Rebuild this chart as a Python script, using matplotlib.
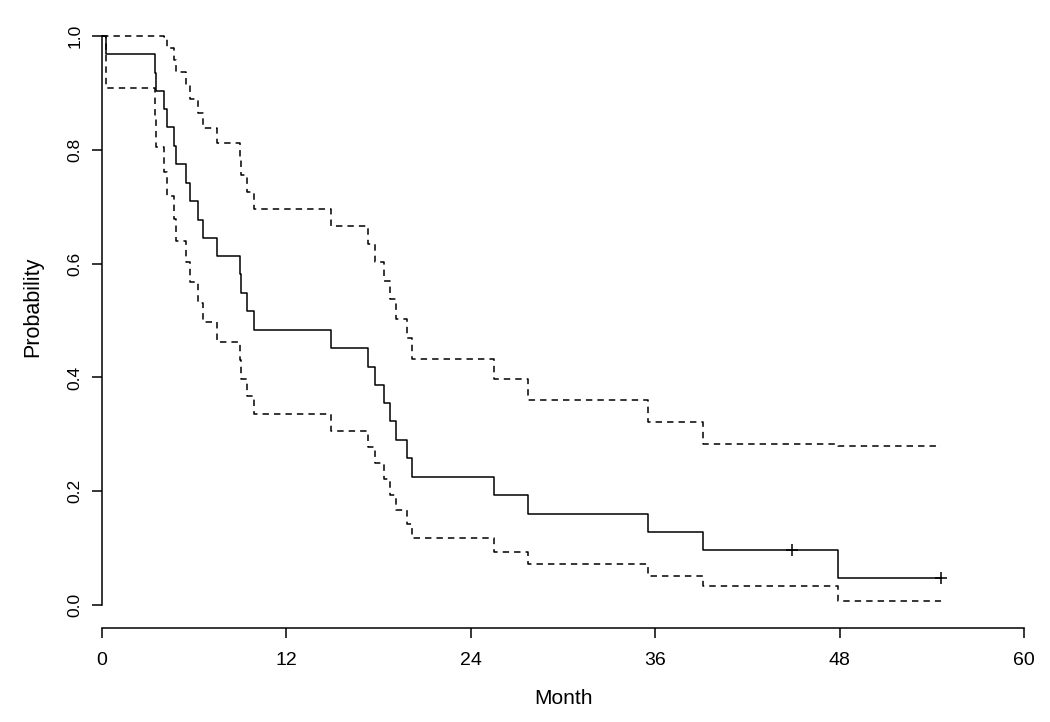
import numpy as np
import matplotlib
matplotlib.use("Agg")
import matplotlib.pyplot as plt
from matplotlib import font_manager

# ---- data (Kaplan-Meier estimate with 95% CI) ----
event_months = [0.0, 0.24, 3.45, 3.52, 4.05, 4.22, 4.70, 4.80, 5.47, 5.73, 6.27,
                6.59, 7.46, 8.98, 9.06, 9.45, 9.88, 14.9, 17.3, 17.76, 18.33,
                18.74, 19.15, 19.82, 20.2, 25.5, 27.74, 35.55, 39.12, 47.9]
survival = [1.0, 0.968, 0.935, 0.903, 0.871, 0.839, 0.806, 0.774, 0.742, 0.710,
            0.677, 0.645, 0.613, 0.581, 0.548, 0.516, 0.484, 0.452, 0.419, 0.387,
            0.355, 0.323, 0.290, 0.258, 0.226, 0.194, 0.161, 0.129, 0.097, 0.048]
upper_ci = [1.0, 1.0, 1.0, 1.0, 0.997, 0.979, 0.958, 0.936, 0.913, 0.889,
            0.864, 0.838, 0.811, 0.783, 0.755, 0.726, 0.696, 0.666, 0.635, 0.603,
            0.570, 0.537, 0.503, 0.469, 0.433, 0.397, 0.360, 0.322, 0.284, 0.280]
lower_ci = [1.0, 0.908, 0.853, 0.805, 0.761, 0.719, 0.679, 0.640, 0.603, 0.567,
            0.531, 0.497, 0.463, 0.431, 0.398, 0.367, 0.336, 0.306, 0.277, 0.249,
            0.221, 0.194, 0.167, 0.142, 0.118, 0.094, 0.072, 0.052, 0.033, 0.008]
censor_months = [44.9, 54.6]
end_month = 54.6

x_ticks = [0, 12, 24, 36, 48, 60]
x_tick_labels = ["0", "12", "24", "36", "48", "60"]
y_ticks = [0.0, 0.2, 0.4, 0.6, 0.8, 1.0]
y_tick_labels = ["0.0", "0.2", "0.4", "0.6", "0.8", "1.0"]
x_label = "Month"
y_label = "Probability"

# ---- fonts ----
names = {f.name for f in font_manager.fontManager.ttflist}
narrow = ["Liberation Sans Narrow"] if "Liberation Sans Narrow" in names else []
h_family = narrow + ["Liberation Sans", "DejaVu Sans"]
v_family = ["Liberation Sans", "DejaVu Sans"]

W, H = 1050, 722
fig = plt.figure(figsize=(W / 100, H / 100), dpi=100)
ax = fig.add_axes([102 / W, 1 - 628 / H, (1024 - 102) / W, (628 - 13) / H])
ax.set_xlim(0, 60)
ax.set_ylim(-0.04, 1.04)

t = list(event_months) + [end_month]
def ext(v):
    return list(v) + [v[-1]]

ax.step(t, ext(survival), where="post", color="black", lw=1.1)
ax.step(t, ext(upper_ci), where="post", color="black", lw=1.1, dashes=(4.2, 3.3))
ax.step(t, ext(lower_ci), where="post", color="black", lw=1.1, dashes=(4.2, 3.3))

idx = np.searchsorted(np.array(event_months), np.array(censor_months), side="right") - 1
cens_y = np.array(survival)[idx]
ax.plot(censor_months, cens_y, linestyle="none", marker="+", markersize=9,
        markeredgewidth=1.1, color="black")

for s in ["top", "right"]:
    ax.spines[s].set_visible(False)
ax.spines["left"].set_bounds(0, 1)
ax.spines["bottom"].set_bounds(0, 60)
for s in ["left", "bottom"]:
    ax.spines[s].set_linewidth(1.1)

ax.set_xticks(x_ticks)
ax.set_xticklabels(x_tick_labels, family=h_family, fontsize=14)
ax.set_yticks(y_ticks)
ax.set_yticklabels(y_tick_labels, family=v_family, fontsize=12.5, rotation=90,
                   va="center")
ax.tick_params(axis="x", length=7, width=1.1, pad=10, direction="out")
ax.tick_params(axis="y", length=7, width=1.1, pad=7, direction="out")

fig.text(563 / W, 1 - 699 / H, x_label, ha="center", va="center",
         family=h_family, fontsize=15)
fig.text(33 / W, 1 - 307 / H, y_label, ha="center", va="center", rotation=90,
         family=v_family, fontsize=15.5)

fig.savefig("out.png", dpi=100)
